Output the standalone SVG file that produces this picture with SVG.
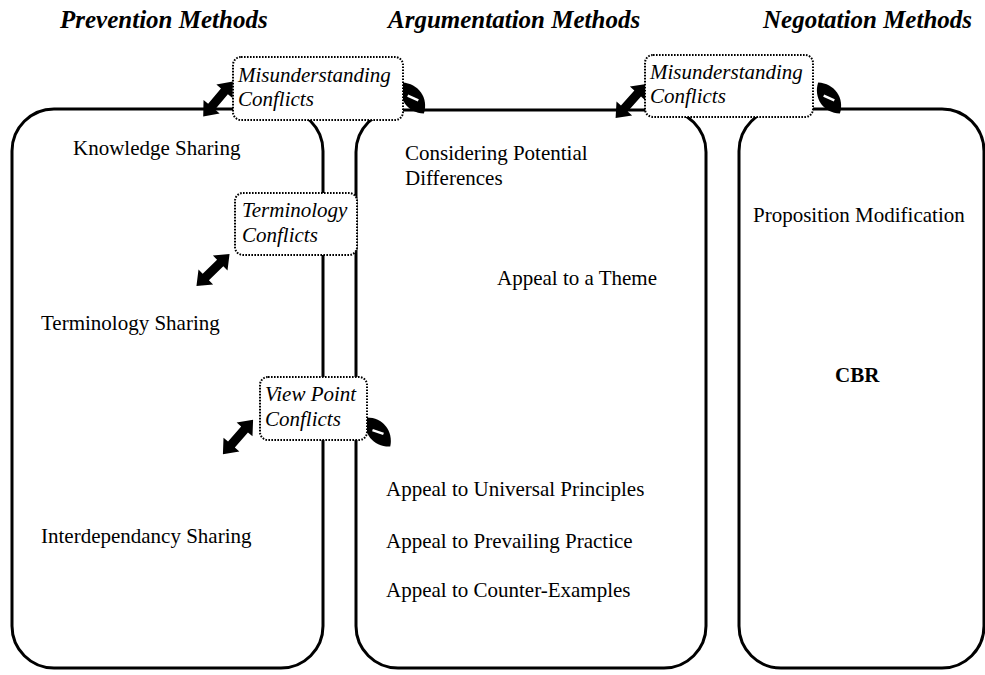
<svg xmlns="http://www.w3.org/2000/svg" xmlns:xlink="http://www.w3.org/1999/xlink" width="985" height="675" viewBox="0 0 985 675">
<style>
.title{font-family:"Liberation Serif","Times New Roman",serif;font-size:25px;font-weight:bold;font-style:italic;fill:#000}
.body{font-family:"Liberation Serif","Times New Roman",serif;font-size:21px;fill:#000}
.lbl{font-family:"Liberation Serif","Times New Roman",serif;font-size:21px;font-style:italic;fill:#000}
.panel{fill:none;stroke:#000;stroke-width:3}
.box{fill:#fff;stroke:#000;stroke-width:2;stroke-dasharray:1.6 1.4}
.arrow{fill:#000}
</style>
<defs>
<path id="dbl" d="M-23,0 L-10,-10.5 L-10,-4.5 L10,-4.5 L10,-10.5 L23,0 L10,10.5 L10,4.5 L-10,4.5 L-10,10.5 Z"/>
<g id="leaf"><path d="M-19,0 C-9,-13 9,-13 19,0 C9,13 -9,13 -19,0 Z" fill="#000"/><path d="M-5,3 L5,-3" stroke="#fff" stroke-width="2.5"/></g>
</defs>
<rect width="985" height="675" fill="#fff"/>
<g id="titles">
<text class="title" x="60" y="28">Prevention Methods</text>
<text class="title" x="388" y="28">Argumentation Methods</text>
<text class="title" x="763" y="28">Negotation Methods</text>
</g>
<g id="prevention">
<rect class="panel" x="12" y="109" width="311" height="559" rx="42"/>
<text class="body" x="73" y="155">Knowledge Sharing</text>
<text class="body" x="41" y="330">Terminology Sharing</text>
<text class="body" x="41" y="543">Interdependancy Sharing</text>
</g>
<g id="argumentation">
<rect class="panel" x="356" y="110" width="350" height="558" rx="42"/>
<text class="body" x="405" y="160">Considering Potential</text>
<text class="body" x="405" y="185">Differences</text>
<text class="body" x="497" y="285">Appeal to a Theme</text>
<text class="body" x="386" y="496">Appeal to Universal Principles</text>
<text class="body" x="386" y="548">Appeal to Prevailing Practice</text>
<text class="body" x="386" y="597">Appeal to Counter-Examples</text>
</g>
<g id="negotiation">
<rect class="panel" x="739" y="109" width="245" height="559" rx="42"/>
<text class="body" x="753" y="222">Proposition Modification</text>
<text class="body" x="835" y="382" font-weight="bold">CBR</text>
</g>
<g id="connectors">
<use xlink:href="#dbl" class="arrow" transform="translate(218,99) rotate(-50)"/>
<use xlink:href="#dbl" class="arrow" transform="translate(631,101) rotate(-48)"/>
<use xlink:href="#dbl" class="arrow" transform="translate(213,270) rotate(-44)"/>
<use xlink:href="#dbl" class="arrow" transform="translate(238,437) rotate(-49)"/>
<use xlink:href="#leaf" transform="translate(413,98) rotate(55)"/>
<use xlink:href="#leaf" transform="translate(829,98) rotate(55)"/>
<use xlink:href="#leaf" transform="translate(378,432) rotate(50)"/>
</g>
<g id="misunderstanding1">
<rect class="box" x="233" y="57" width="170" height="63" rx="8"/>
<text class="lbl" x="238" y="82">Misunderstanding</text>
<text class="lbl" x="238" y="106">Conflicts</text>
</g>
<g id="misunderstanding2">
<rect class="box" x="645" y="55" width="168" height="62" rx="8"/>
<text class="lbl" x="650" y="79">Misunderstanding</text>
<text class="lbl" x="650" y="103">Conflicts</text>
</g>
<g id="terminology">
<rect class="box" x="235" y="193" width="122" height="62" rx="8"/>
<text class="lbl" x="242" y="217">Terminology</text>
<text class="lbl" x="242" y="242">Conflicts</text>
</g>
<g id="viewpoint">
<rect class="box" x="260" y="377" width="107" height="63" rx="8"/>
<text class="lbl" x="265" y="401">View Point</text>
<text class="lbl" x="265" y="426">Conflicts</text>
</g>
</svg>
